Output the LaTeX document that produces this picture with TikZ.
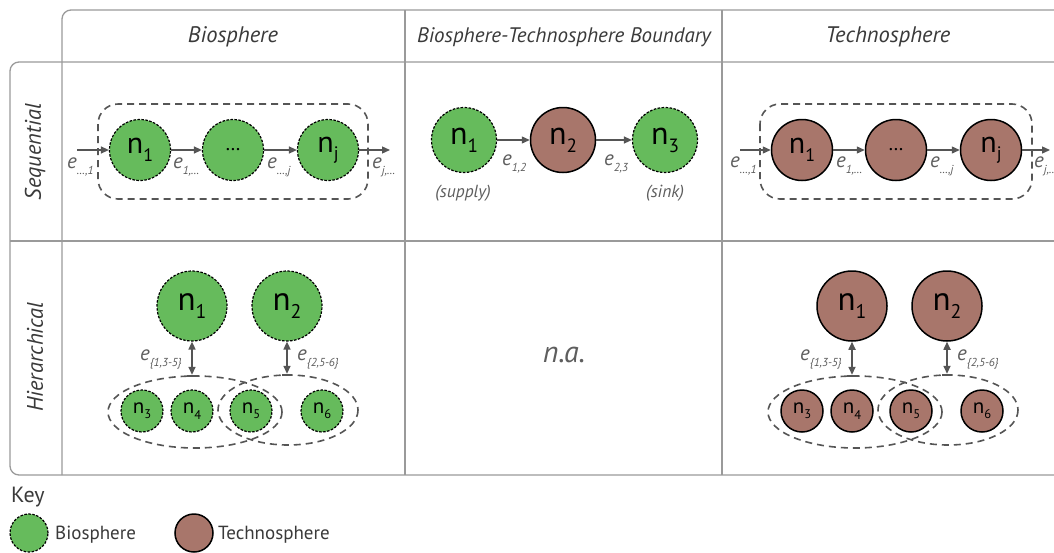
\documentclass[tikz,border=0pt]{standalone}
\usepackage{fontspec}
\setmainfont{PT Sans}
\usetikzlibrary{arrows.meta}
\definecolor{biogreen}{HTML}{66BB5C}
\definecolor{techbrown}{HTML}{A8766B}
\definecolor{gridgrey}{HTML}{9A9A9A}
\definecolor{linegrey}{HTML}{555555}
\definecolor{txtgrey}{HTML}{3A3A3A}
\definecolor{labgrey}{HTML}{5E5E5E}
\newcommand\fsz[1]{\fontsize{#1}{#1}\selectfont}
\newcommand\nlab[1]{n\raisebox{-0.25em}{\scalebox{0.6}{#1}}}
\newcommand\elab[1]{\textit{e}\raisebox{-0.3em}{\scalebox{0.55}{\textit{#1}}}}
\tikzset{
  gridline/.style={draw=gridgrey, line width=1.3pt},
  bio/.style={circle, fill=biogreen, draw=black, line width=1.2pt, dash pattern=on 2.5pt off 1.5pt, inner sep=0pt, text=black},
  tech/.style={circle, fill=techbrown, draw=black, line width=1.5pt, inner sep=0pt, text=black},
  bigc/.style={minimum size=70pt, font=\fsz{33}},
  bndc/.style={minimum size=65pt, font=\fsz{32}},
  seqc/.style={minimum size=61pt, font=\fsz{30}},
  dotc/.style={minimum size=61pt, font=\fsz{20}},
  smallc/.style={minimum size=42pt, font=\fsz{21}},
  flow/.style={draw=linegrey, line width=1.3pt, -{Triangle[length=8pt,width=7pt]}},
  biflow/.style={draw=linegrey, line width=1.6pt, {Triangle[length=8pt,width=7pt]}-{Triangle[length=8pt,width=7pt]}},
  bar/.style={draw=linegrey, line width=2.5pt},
  grp/.style={draw=linegrey, line width=1.6pt, dash pattern=on 7pt off 5pt},
  elabel/.style={text=labgrey, font=\fsz{21}, inner sep=0pt, anchor=base west},
  head/.style={text=txtgrey, font=\fsz{22.5}\itshape},
  note/.style={text=labgrey, font=\fsz{17.5}\itshape},
  keytext/.style={text=txtgrey, font=\fsz{19}, anchor=west, inner sep=0pt},
}
\begin{document}
\begin{tikzpicture}[x=1pt, y=-1pt]
\useasboundingbox (0,0) rectangle (1054,552);
\fill[white] (0,0) rectangle (1054,552);
% grid
\draw[gridline, rounded corners=9pt] (62,475) -- (62,10) -- (1054,10);
\draw[gridline, rounded corners=9pt] (1054,62) -- (10,62) -- (10,475) -- (1054,475);
\draw[gridline] (405,10) -- (405,475);
\draw[gridline] (722,10) -- (722,475);
\draw[gridline] (10,241) -- (1054,241);
% headers
\node[head] (h1) at (233,37) {Biosphere};
\node[head, font=\fsz{21}\itshape] (h2) at (564,37) {Biosphere-Technosphere Boundary};
\node[head] (h3) at (888,37) {Technosphere};
\node[head, rotate=90] (r1) at (35,152) {Sequential};
\node[head, rotate=90] (r2) at (35,357) {Hierarchical};

% ---------- Biosphere sequential
\draw[grp, rounded corners=20pt] (98,104) rectangle (368,199);
\node[bio, seqc] (bs1) at (140,150) {\nlab{1}};
\node[bio, dotc] (bsd) at (233,150) {…};
\node[bio, seqc] (bsj) at (328,150) {\nlab{j}};
\coordinate (bsin) at (77,150);
\coordinate (bsout) at (390,150);
\draw[flow] (bsin) -- (bs1);
\draw[flow] (bs1) -- (bsd);
\draw[flow] (bsd) -- (bsj);
\draw[flow] (bsj) -- (bsout);
\node[elabel] (be0) at (67,168) {\elab{…,1}};
\node[elabel] (be1) at (173,168) {\elab{1,…}};
\node[elabel] (be2) at (267,168) {\elab{…,j}};
\node[elabel] (be3) at (372,168) {\elab{j,…}};

% ---------- Boundary sequential
\node[bio, bndc] (m1) at (464,140) {\nlab{1}};
\node[tech, bndc] (m2) at (563,140) {\nlab{2}};
\node[bio, bndc] (m3) at (665,140) {\nlab{3}};
\draw[flow] (m1) -- (m2);
\draw[flow] (m2) -- (m3);
\node[elabel] (me1) at (502,165) {\elab{1,2}};
\node[elabel] (me2) at (604,165) {\elab{2,3}};
\node[note] (sup) at (463,193) {(supply)};
\node[note] (snk) at (665,193) {(sink)};

% ---------- Technosphere sequential
\draw[grp, rounded corners=20pt] (760,104) rectangle (1032,199);
\node[tech, seqc] (ts1) at (802,150) {\nlab{1}};
\node[tech, dotc] (tsd) at (896,150) {…};
\node[tech, seqc] (tsj) at (991,150) {\nlab{j}};
\coordinate (tsin) at (740,150);
\coordinate (tsout) at (1050,150);
\draw[flow] (tsin) -- (ts1);
\draw[flow] (ts1) -- (tsd);
\draw[flow] (tsd) -- (tsj);
\draw[flow] (tsj) -- (tsout);
\node[elabel] (te0) at (730,167) {\elab{…,1}};
\node[elabel] (te1) at (836,167) {\elab{1,…}};
\node[elabel] (te2) at (930,167) {\elab{…,j}};
\node[elabel] (te3) at (1034,167) {\elab{j,…}};

% ---------- Biosphere hierarchical
\draw[grp] (195,412) ellipse [x radius=87, y radius=36];
\draw[grp] (288,410) ellipse [x radius=70, y radius=35];
\node[bio, bigc] (bh1) at (192,306) {\nlab{1}};
\node[bio, bigc] (bh2) at (287,306) {\nlab{2}};
\node[bio, smallc] (bh3) at (142,411) {\nlab{3}};
\node[bio, smallc] (bh4) at (192,411) {\nlab{4}};
\node[bio, smallc] (bh5) at (251,411) {\nlab{5}};
\node[bio, smallc] (bh6) at (322,411) {\nlab{6}};
\coordinate (bb1) at (192,376);
\coordinate (bb2) at (287,375);
\draw[biflow, shorten >=1.2pt] (bh1) -- (bb1);
\draw[biflow, shorten >=1.2pt] (bh2) -- (bb2);
\draw[bar] ([xshift=-5pt]bb1) -- ([xshift=5pt]bb1);
\draw[bar] ([xshift=-5pt]bb2) -- ([xshift=5pt]bb2);
\node[elabel] (bhe1) at (140,360) {\elab{\{1,3-5\}}};
\node[elabel] (bhe2) at (297,360) {\elab{\{2,5-6\}}};

% ---------- n.a.
\node[text=labgrey, font=\fsz{30}\itshape] (na) at (564,355) {n.a.};

% ---------- Technosphere hierarchical
\draw[grp] (855,412) ellipse [x radius=87, y radius=36];
\draw[grp] (948,410) ellipse [x radius=70, y radius=35];
\node[tech, bigc] (th1) at (852,306) {\nlab{1}};
\node[tech, bigc] (th2) at (947,306) {\nlab{2}};
\node[tech, smallc] (th3) at (802,411) {\nlab{3}};
\node[tech, smallc] (th4) at (852,411) {\nlab{4}};
\node[tech, smallc] (th5) at (911,411) {\nlab{5}};
\node[tech, smallc] (th6) at (982,411) {\nlab{6}};
\coordinate (tb1) at (852,376);
\coordinate (tb2) at (947,375);
\draw[biflow, shorten >=1.2pt] (th1) -- (tb1);
\draw[biflow, shorten >=1.2pt] (th2) -- (tb2);
\draw[bar] ([xshift=-5pt]tb1) -- ([xshift=5pt]tb1);
\draw[bar] ([xshift=-5pt]tb2) -- ([xshift=5pt]tb2);
\node[elabel] (the1) at (800,360) {\elab{\{1,3-5\}}};
\node[elabel] (the2) at (957,360) {\elab{\{2,5-6\}}};

% ---------- Key
\node[text=txtgrey, font=\fsz{22}, anchor=west, inner sep=0pt] (key) at (11,497) {Key};
\node[bio, minimum size=38pt] (kb) at (29,533) {};
\node[tech, minimum size=38pt] (kt) at (194,533) {};
\node[keytext] (kbt) at (55,535) {Biosphere};
\node[keytext] (ktt) at (218,535) {Technosphere};
\end{tikzpicture}
\end{document}
